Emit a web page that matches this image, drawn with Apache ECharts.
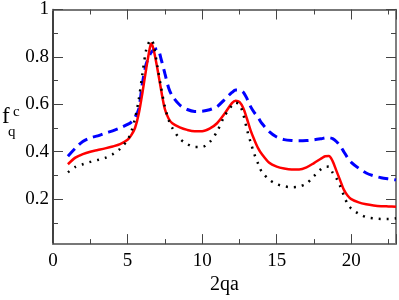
<!DOCTYPE html>
<html>
<head>
<meta charset="utf-8">
<script src="https://cdn.jsdelivr.net/npm/echarts@6/dist/echarts.min.js"></script>
<style>
  html, body { margin: 0; padding: 0; background: #fff; }
  #chart { width: 399px; height: 300px; }
</style>
</head>
<body>
<div id="chart"></div>
<script>
// sample positions (2qa) shared by all three curves
var xs = [1, 1.5, 2, 2.5, 3, 3.5, 4, 4.5, 5, 5.25, 5.5, 5.75, 6, 6.25, 6.5, 6.6, 6.75, 7, 7.25, 7.5, 7.75, 8, 8.5, 9, 9.5, 10,
  10.5, 11, 11.5, 12, 12.25, 12.5, 12.75, 13, 13.25, 13.5, 13.75, 14, 14.5, 15, 15.5, 16, 16.5, 17, 17.5, 18, 18.25, 18.5, 18.75,
  19, 19.25, 19.5, 19.75, 20, 20.5, 21, 21.5, 22, 22.5, 23];

// blue dashed curve
var blueDash = [0.381, 0.415, 0.443, 0.458, 0.467, 0.478, 0.488, 0.5, 0.515, 0.525, 0.545, 0.58, 0.69, 0.77, 0.81, 0.82, 0.83, 0.835, 0.79, 0.73, 0.67, 0.635, 0.597, 0.578, 0.57, 0.571,
  0.577, 0.59, 0.62, 0.65, 0.66, 0.66, 0.652, 0.625, 0.59, 0.565, 0.545, 0.52, 0.485, 0.462, 0.451, 0.447, 0.446, 0.447, 0.45, 0.455, 0.458, 0.459, 0.455,
  0.443, 0.425, 0.4, 0.375, 0.355, 0.33, 0.31, 0.298, 0.29, 0.285, 0.281];

// red solid curve
var redSolid = [0.347, 0.375, 0.39, 0.4, 0.407, 0.414, 0.422, 0.432, 0.45, 0.47, 0.5, 0.56, 0.65, 0.75, 0.84, 0.857, 0.83, 0.75, 0.66, 0.58, 0.54, 0.52, 0.503, 0.492, 0.486, 0.486,
  0.497, 0.52, 0.56, 0.605, 0.615, 0.61, 0.585, 0.54, 0.49, 0.45, 0.415, 0.39, 0.353, 0.337, 0.329, 0.325, 0.325, 0.334, 0.352, 0.372, 0.381, 0.382, 0.36,
  0.32, 0.28, 0.24, 0.215, 0.2, 0.186, 0.178, 0.173, 0.17, 0.169, 0.168];

// black dotted curve
var blackDot = [0.313, 0.336, 0.347, 0.357, 0.365, 0.374, 0.389, 0.412, 0.45, 0.485, 0.54, 0.62, 0.73, 0.83, 0.87, 0.872, 0.85, 0.76, 0.67, 0.59, 0.535, 0.5, 0.455, 0.432, 0.42, 0.42,
  0.44, 0.485, 0.55, 0.595, 0.607, 0.6, 0.56, 0.495, 0.44, 0.39, 0.35, 0.315, 0.282, 0.263, 0.254, 0.25, 0.253, 0.265, 0.297, 0.328, 0.336, 0.337, 0.312,
  0.288, 0.255, 0.215, 0.18, 0.16, 0.138, 0.124, 0.119, 0.116, 0.116, 0.119];

var yMajor = [0.2, 0.4, 0.6, 0.8, 1];
var yMinor = [0.1, 0.3, 0.5, 0.7, 0.9];

function pairs(ys) {
  return xs.map(function (x, i) { return [x, ys[i]]; });
}

var serif = "Liberation Serif, Times New Roman, Times, DejaVu Serif, serif";
var chart = echarts.init(document.getElementById("chart"));

function xAx(pos, showLabel, lineColor) {
  return {
    type: "value", position: pos, min: 0, max: 23, interval: 5,
    name: showLabel ? "2qa" : "", nameLocation: "middle", nameGap: 25,
    nameTextStyle: { fontFamily: serif, fontSize: 20, color: "#000" },
    axisLine: { show: true, onZero: false, lineStyle: { color: lineColor, width: 2 } },
    axisTick: { show: true, inside: true, length: 10, lineStyle: { color: "#444" } },
    minorTick: { show: true, splitNumber: 2, length: 5, lineStyle: { color: "#444" } },
    axisLabel: { show: showLabel, showMaxLabel: false, margin: 7, fontFamily: serif, fontSize: 19, color: "#000" },
    splitLine: { show: false }, minorSplitLine: { show: false }
  };
}

function yAx(pos, major, showLabel, lineColor) {
  return {
    type: "value", position: pos, min: 0.01, max: 1,
    axisLine: { show: major, onZero: false, lineStyle: { color: lineColor, width: 1.5 } },
    axisTick: { show: true, inside: true, length: major ? 10 : 5, customValues: major ? yMajor : yMinor, lineStyle: { color: "#444" } },
    axisLabel: {
      show: showLabel, customValues: yMajor, margin: 4, fontFamily: serif, fontSize: 19, color: "#000",
      formatter: function (v) { return v >= 0.999 ? "1" : v.toFixed(1); }
    },
    splitLine: { show: false }
  };
}

chart.setOption({
  animation: false,
  grid: { left: 53, top: 7, right: 3, bottom: 47.5 },
  xAxis: [xAx("bottom", true, "#777"), xAx("top", false, "#777")],
  yAxis: [
    yAx("left", true, true, "#000"),
    yAx("left", false, false, "#000"),
    yAx("right", true, false, "#555"),
    yAx("right", false, false, "#555")
  ],
  graphic: [
    { type: "text", left: 2, top: 105, style: { text: "f", fontFamily: serif, fontSize: 23, fill: "#000" } },
    { type: "text", left: 13, top: 105, style: { text: "c", fontFamily: serif, fontSize: 15, fill: "#000" } },
    { type: "text", left: 8, top: 125, style: { text: "q", fontFamily: serif, fontSize: 15, fill: "#000" } }
  ],
  series: [
    {
      type: "line", data: pairs(blueDash), showSymbol: false, smooth: 0.3,
      lineStyle: { color: "#0000ff", width: 3, type: [10, 6] }
    },
    {
      type: "line", data: pairs(redSolid), showSymbol: false, smooth: 0.3,
      lineStyle: { color: "#ff0000", width: 2.5 }
    },
    {
      type: "line", data: pairs(blackDot), showSymbol: false, smooth: 0.3,
      lineStyle: { color: "#000", width: 2.5, type: [2, 6] }
    }
  ]
});
</script>
</body>
</html>
